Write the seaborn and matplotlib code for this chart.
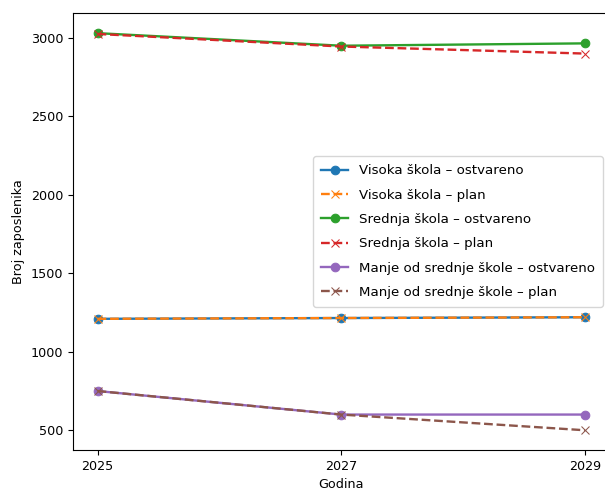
import matplotlib
matplotlib.use("Agg")
import matplotlib.pyplot as plt
import pandas as pd
import seaborn as sns

years = [2025, 2027, 2029]

groups = ["Visoka škola", "Srednja škola", "Manje od srednje škole"]
ostvareno = {
    "Visoka škola": [1210, 1215, 1220],
    "Srednja škola": [3030, 2950, 2965],
    "Manje od srednje škole": [750, 600, 600],
}
plan = {
    "Visoka škola": [1210, 1215, 1220],
    "Srednja škola": [3025, 2945, 2900],
    "Manje od srednje škole": [750, 600, 500],
}

colors_ost = ["#1f77b4", "#2ca02c", "#9467bd"]
colors_plan = ["#ff7f0e", "#d62728", "#8c564b"]

plt.rcParams["font.family"] = ["DejaVu Sans"]
plt.rcParams["font.size"] = 9.2

fig = plt.figure(figsize=(6.05, 4.93), dpi=100)
ax = fig.add_axes([0.121, 0.087, 0.886, 0.886])

for g, c_o, c_p in zip(groups, colors_ost, colors_plan):
    df_o = pd.DataFrame({"Godina": years, "Broj": ostvareno[g]})
    df_p = pd.DataFrame({"Godina": years, "Broj": plan[g]})
    sns.lineplot(data=df_o, x="Godina", y="Broj", color=c_o, marker="o",
                 markeredgecolor=c_o, markersize=6.2, linewidth=1.7,
                 label=f"{g} – ostvareno", ax=ax)
    sns.lineplot(data=df_p, x="Godina", y="Broj", color=c_p, marker="x",
                 markeredgecolor=c_p, markersize=6.2, linewidth=1.7,
                 linestyle="--", label=f"{g} – plan", ax=ax)

ax.set_xticks(years)
ax.set_xlabel("Godina")
ax.set_ylabel("Broj zaposlenika")
ax.legend(loc="center right", fontsize=9.6, labelspacing=0.85, borderpad=0.6)

fig.savefig("out.png", dpi=100)
